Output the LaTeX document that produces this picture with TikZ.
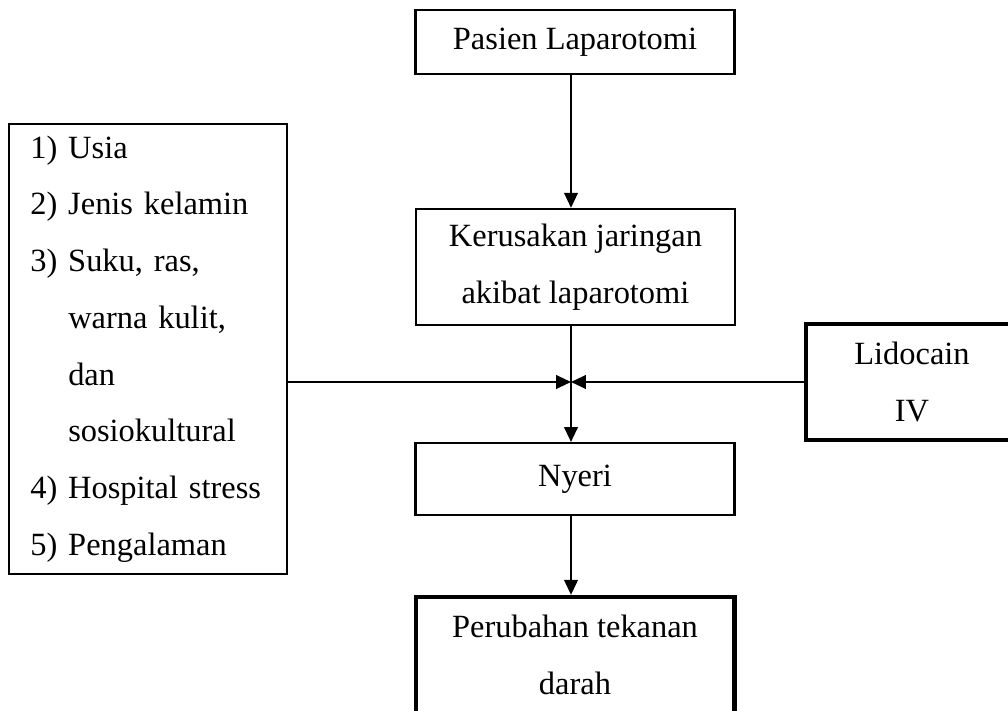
\documentclass[tikz,border=0pt]{standalone}
\usepackage{fontspec}
\setmainfont{Liberation Serif}
\usepackage{tikz}
\usetikzlibrary{positioning,arrows.meta,calc}

\newcommand{\itemno}[2]{\makebox[14pt][l]{#1}#2}

\begin{document}
\begin{tikzpicture}[
  x=0.37pt, y=-0.37pt,
  font=\fontsize{12}{21}\selectfont,
  flowbox/.style={
    draw=black, line width=0.8pt,
    minimum width=118pt, align=center, inner sep=0pt,
  },
  heavybox/.style={flowbox, line width=1.5pt},
  listbox/.style={
    draw=black, line width=0.8pt,
    minimum height=166.5pt, text width=87pt,
    align=left, inner xsep=8pt, inner ysep=0pt,
  },
  arr/.style={draw=black, line width=0.8pt,
    -{Triangle[length=5.5pt, width=5pt]}},
]
\useasboundingbox (0,0) rectangle (1008,711);

% === MAIN COLUMN ===
\node[flowbox, minimum height=23.7pt] (pasien) at (575, 42) {Pasien Laparotomi};
\node[flowbox, minimum height=43pt] (rusak) at (575.5, 267)
  {Kerusakan jaringan\\akibat laparotomi};
\node[flowbox, minimum height=26.6pt] (nyeri) at (575, 479) {Nyeri};
\node[heavybox, minimum height=43pt] (tensi) at (575, 655)
  {Perubahan tekanan\\darah};

% === SIDE BOXES ===
\node[listbox] (faktor) at (148, 349) {%
  \itemno{1)}{Usia}\\
  \itemno{2)}{Jenis kelamin}\\
  \itemno{3)}{Suku, ras,}\\
  \itemno{}{warna kulit,}\\
  \itemno{}{dan}\\
  \itemno{}{sosiokultural}\\
  \itemno{4)}{Hospital stress}\\
  \itemno{5)}{Pengalaman}};
\node[heavybox, minimum width=78.4pt, minimum height=43pt] (lido) at (912, 382)
  {Lidocain\\IV};

% --- spine ---
\coordinate (spine) at (571, 0);
\coordinate (meet) at (571, 382);

\draw[arr] (pasien.south -| spine) -- (rusak.north -| spine);
\draw[arr] (rusak.south -| spine) -- (nyeri.north -| spine);
\draw[arr] (nyeri.south -| spine) -- (tensi.north -| spine);

% --- side arrows into the spine ---
\draw[arr] (faktor.east |- meet) -- (meet);
\draw[arr] (lido.west |- meet) -- (meet);

\end{tikzpicture}
\end{document}
